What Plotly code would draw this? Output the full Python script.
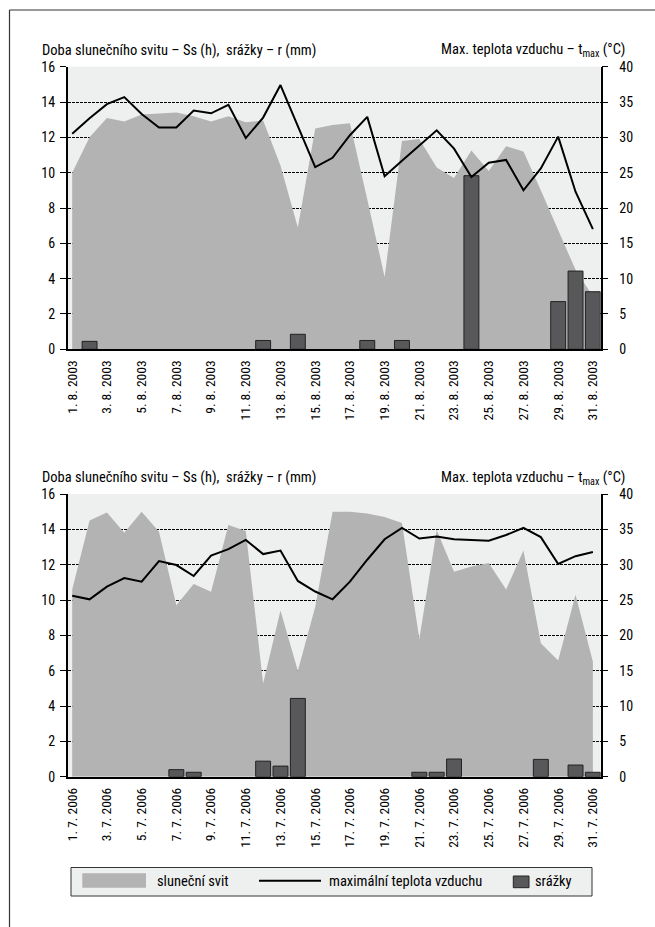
import plotly.graph_objects as go

# ---------------- data ----------------
days = list(range(1, 32))

tick_days = list(range(1, 32, 2))
labels_2003 = [f"{d}. 8. 2003" for d in tick_days]
labels_2006 = [f"{d}. 7. 2006" for d in tick_days]

# August 2003
sun_2003 = [10.0, 12.0, 13.1, 12.9, 13.3, 13.35, 13.4, 13.2, 12.9, 13.2,
            12.85, 12.95, 10.4, 6.9, 12.5, 12.7, 12.8, 8.5, 4.1, 11.8,
            11.9, 10.3, 9.7, 11.25, 10.1, 11.5, 11.2, 9.0, 6.8, 4.5, 3.0]
tmax_2003 = [30.5, 32.7, 34.7, 35.7, 33.3, 31.4, 31.4, 33.8, 33.4, 34.6,
             29.9, 32.8, 37.4, 31.6, 25.8, 27.1, 30.3, 32.9, 24.5, 26.7,
             28.9, 31.0, 28.4, 24.4, 26.4, 26.8, 22.5, 25.6, 30.1, 22.3, 17.0]
rain_2003 = [0, 0.45, 0, 0, 0, 0, 0, 0, 0, 0,
             0, 0.5, 0, 0.85, 0, 0, 0, 0.5, 0, 0.5,
             0, 0, 0, 9.83, 0, 0, 0, 0, 2.7, 4.43, 3.26]

# July 2006
sun_2006 = [10.6, 14.5, 14.96, 13.8, 15.0, 13.87, 9.7, 10.9, 10.47, 14.25,
            13.9, 5.28, 9.4, 6.0, 9.6, 15.0, 15.0, 14.9, 14.7, 14.36,
            7.8, 13.96, 11.6, 11.9, 12.1, 10.6, 12.8, 7.55, 6.57, 10.3, 6.5]
tmax_2006 = [25.6, 25.1, 26.9, 28.1, 27.6, 30.5, 29.95, 28.4, 31.3, 32.2,
             33.5, 31.5, 32.0, 27.7, 26.2, 25.1, 27.6, 30.7, 33.6, 35.2,
             33.7, 34.0, 33.6, 33.5, 33.4, 34.2, 35.2, 33.9, 30.1, 31.2, 31.8]
rain_2006 = [0, 0, 0, 0, 0, 0, 0.4, 0.25, 0, 0,
             0, 0.88, 0.6, 4.43, 0, 0, 0, 0, 0, 0,
             0.25, 0.25, 1.0, 0, 0, 0, 0, 0.98, 0, 0.66, 0.25]

left_ticks = [0, 2, 4, 6, 8, 10, 12, 14, 16]
right_ticks = [0, 5, 10, 15, 20, 25, 30, 35, 40]

title_left = "Doba slunečního svitu – Ss (h),  srážky – r (mm)"
title_right = "Max. teplota vzduchu – t<sub>max</sub> (°C)"
legend_names = ["sluneční svit", "maximální teplota vzduchu", "srážky"]

# ---------------- style ----------------
FONT = "Liberation Sans Narrow, Arial Narrow, Roboto Condensed, sans-serif"
W, H = 655, 927
SUN_C = "#b3b3b3"
BG_C = "#eeefef"
BAR_C = "#58585a"


def px_x(x):
    return x / W


def px_y(y):
    return 1 - y / H


fig = go.Figure()

# (sun, tmax, rain, labels, top px, bottom px, area axis, bar axis, temp axis, x axis)
panels = [
    (sun_2003, tmax_2003, rain_2003, labels_2003, 66.7, 349.3, 1, 2, 3, 1),
    (sun_2006, tmax_2006, rain_2006, labels_2006, 494.0, 776.7, 4, 5, 6, 2),
]

x_dom = [px_x(67.7), px_x(600.7)]
xr = [0.74, 31.45]


def ax_ref(n, letter):
    return letter if n == 1 else f"{letter}{n}"


def ax_key(n, letter):
    return f"{letter}axis" if n == 1 else f"{letter}axis{n}"


tickfont = dict(family=FONT, size=14, color="black")

for sun, tmax, rain, labs, ytop, ybot, ya, yb, yc, xn in panels:
    xname = ax_ref(xn, "x")
    fig.add_trace(go.Scatter(x=days, y=sun, mode="lines", line=dict(width=0),
                             fill="tozeroy", fillcolor=SUN_C, showlegend=False,
                             xaxis=xname, yaxis=ax_ref(ya, "y"), hoverinfo="skip"))
    rain_days = [d for d, r in zip(days, rain) if r > 0]
    rain_vals = [r for r in rain if r > 0]
    fig.add_trace(go.Bar(x=rain_days, y=rain_vals, width=0.86,
                         marker=dict(color=BAR_C, line=dict(color="#222222", width=1)),
                         showlegend=False, xaxis=xname, yaxis=ax_ref(yb, "y")))
    fig.add_trace(go.Scatter(x=days, y=tmax, mode="lines", line=dict(color="black", width=2),
                             showlegend=False, xaxis=xname, yaxis=ax_ref(yc, "y")))

    dom_y = [px_y(ybot), px_y(ytop)]
    fig.layout[ax_key(xn, "x")] = dict(
        domain=x_dom, range=xr, anchor=ax_ref(ya, "y"), tickmode="array",
        tickvals=tick_days, ticktext=labs, tickangle=-90,
        showline=True, linecolor="black", linewidth=1.5,
        ticks="", showgrid=False, zeroline=False,
        tickfont=dict(family=FONT, size=13.5, color="black"),
        automargin=False, ticklabelstandoff=4)
    fig.layout[ax_key(ya, "y")] = dict(
        domain=dom_y, range=[0, 16], anchor=xname, tickmode="array",
        tickvals=left_ticks, showline=True, linecolor="black", linewidth=1.5,
        ticks="outside", ticklen=6, tickcolor="black",
        showgrid=True, gridcolor="black", gridwidth=1, griddash="3px,1px",
        zeroline=False, tickfont=tickfont, automargin=False, ticklabelstandoff=2)
    fig.layout[ax_key(yb, "y")] = dict(
        domain=dom_y, range=[0, 16], anchor=xname, overlaying=ax_ref(ya, "y"),
        visible=False, showgrid=False, zeroline=False)
    fig.layout[ax_key(yc, "y")] = dict(
        domain=dom_y, range=[0, 40], anchor=xname, overlaying=ax_ref(ya, "y"),
        side="right", tickmode="array", tickvals=right_ticks,
        showline=True, linecolor="black", linewidth=1.5,
        ticks="outside", ticklen=6, tickcolor="black",
        showgrid=False, zeroline=False, tickfont=tickfont,
        automargin=False, ticklabelstandoff=8)

annotations = []
shapes = []
for ytop in (66.7, 494.0):
    annotations.append(dict(text=title_left, x=px_x(40), y=px_y(ytop - 16.5),
                            xref="paper", yref="paper", xanchor="left", yanchor="middle",
                            showarrow=False, font=dict(family=FONT, size=14.5, color="black")))
    annotations.append(dict(text=title_right, x=px_x(627), y=px_y(ytop - 16.5),
                            xref="paper", yref="paper", xanchor="right", yanchor="middle",
                            showarrow=False, font=dict(family=FONT, size=14.5, color="black")))

# frame
shapes.append(dict(type="line", xref="paper", yref="paper", x0=px_x(9.5), x1=1.0,
                   y0=px_y(10), y1=px_y(10), line=dict(color="#333333", width=1)))
shapes.append(dict(type="line", xref="paper", yref="paper", x0=px_x(9.5), x1=px_x(9.5),
                   y0=px_y(10), y1=0.0, line=dict(color="#333333", width=1.2)))

# legend box
shapes.append(dict(type="rect", xref="paper", yref="paper", x0=px_x(71), x1=px_x(592),
                   y0=px_y(896), y1=px_y(867.5), fillcolor=BG_C,
                   line=dict(color="#333333", width=1)))
shapes.append(dict(type="rect", xref="paper", yref="paper", x0=px_x(82.3), x1=px_x(146),
                   y0=px_y(887.7), y1=px_y(873.3), fillcolor=SUN_C, line=dict(width=0)))
shapes.append(dict(type="line", xref="paper", yref="paper", x0=px_x(259), x1=px_x(321),
                   y0=px_y(880.7), y1=px_y(880.7), line=dict(color="black", width=2)))
shapes.append(dict(type="rect", xref="paper", yref="paper", x0=px_x(513.3), x1=px_x(529),
                   y0=px_y(887.7), y1=px_y(876), fillcolor=BAR_C,
                   line=dict(color="#222222", width=1)))
for name, xl in zip(legend_names, (155, 327, 533)):
    annotations.append(dict(text=name, x=px_x(xl), y=px_y(881), xref="paper", yref="paper",
                            xanchor="left", yanchor="middle", showarrow=False,
                            font=dict(family=FONT, size=14.5, color="black")))

fig.update_layout(width=W, height=H, margin=dict(l=0, r=0, t=0, b=0),
                  paper_bgcolor="white", plot_bgcolor=BG_C,
                  showlegend=False, annotations=annotations, shapes=shapes,
                  font=dict(family=FONT, size=13, color="black"))

fig.write_html("out.html", config={"displayModeBar": False},
               post_script="document.body.style.margin='0';document.body.style.overflow='hidden';")
